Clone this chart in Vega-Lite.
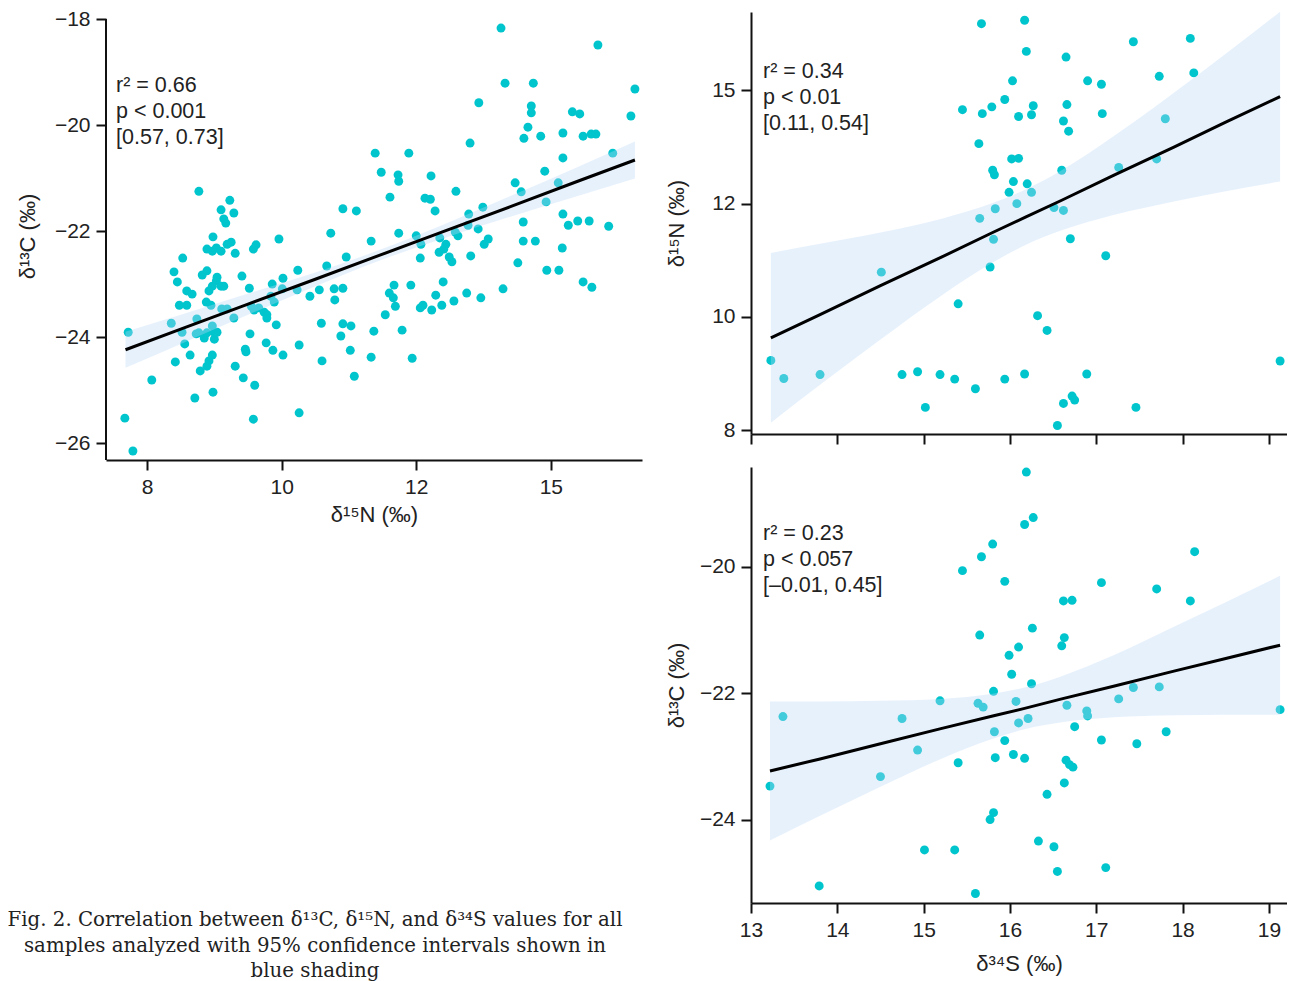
{
  "$schema": "https://vega.github.io/schema/vega-lite/v6.json",
  "background": "white",
  "padding": {"left": 7, "top": 8, "right": 0, "bottom": 0},
  "spacing": 23,
  "config": {
    "view": {"stroke": null},
    "font": "Liberation Sans",
    "axis": {
      "domainColor": "#111", "domainWidth": 2, "tickColor": "#111", "tickWidth": 2, "tickSize": 10,
      "labelFontSize": 21, "labelColor": "#222", "labelFont": "Liberation Sans", "labelPadding": 6, "labelFlush": false,
      "titleFont": "Liberation Sans", "titleFontSize": 22, "titleFontWeight": "normal", "titleColor": "#222",
      "grid": false
    }
  },
  "datasets": {
    "cn": [
      {"x":13.26,"y":-18.17},{"x":14.70,"y":-18.49},{"x":13.32,"y":-19.21},{"x":13.74,"y":-19.21},{"x":15.25,"y":-19.32},
      {"x":12.93,"y":-19.58},{"x":13.71,"y":-19.64},{"x":13.71,"y":-19.77},{"x":14.32,"y":-19.75},{"x":14.43,"y":-19.79},
      {"x":15.19,"y":-19.83},{"x":13.66,"y":-20.04},{"x":13.60,"y":-20.25},{"x":13.85,"y":-20.21},{"x":14.18,"y":-20.15},
      {"x":14.48,"y":-20.21},{"x":14.60,"y":-20.17},{"x":14.67,"y":-20.17},{"x":12.80,"y":-20.34},{"x":11.39,"y":-20.53},
      {"x":11.89,"y":-20.53},{"x":14.92,"y":-20.53},{"x":14.18,"y":-20.62},{"x":11.48,"y":-20.89},{"x":11.73,"y":-20.94},
      {"x":11.74,"y":-21.06},{"x":12.22,"y":-20.96},{"x":13.91,"y":-20.87},{"x":11.61,"y":-21.36},{"x":12.13,"y":-21.38},
      {"x":12.21,"y":-21.40},{"x":12.59,"y":-21.25},{"x":13.47,"y":-21.09},{"x":13.56,"y":-21.26},{"x":14.11,"y":-21.09},
      {"x":12.28,"y":-21.62},{"x":12.99,"y":-21.55},{"x":12.78,"y":-21.68},{"x":13.93,"y":-21.45},{"x":14.18,"y":-21.68},
      {"x":14.26,"y":-21.89},{"x":14.40,"y":-21.81},{"x":14.57,"y":-21.81},{"x":14.86,"y":-21.91},{"x":13.59,"y":-21.83},
      {"x":12.92,"y":-21.96},{"x":12.77,"y":-21.89},{"x":11.74,"y":-22.04},{"x":11.33,"y":-22.19},{"x":12.00,"y":-22.09},
      {"x":12.07,"y":-22.25},{"x":12.35,"y":-22.13},{"x":12.44,"y":-22.25},{"x":12.58,"y":-22.02},{"x":12.62,"y":-22.09},
      {"x":13.59,"y":-22.19},{"x":13.77,"y":-22.19},{"x":13.01,"y":-22.25},{"x":13.07,"y":-22.15},{"x":14.17,"y":-22.32},
      {"x":12.06,"y":-22.51},{"x":12.34,"y":-22.40},{"x":12.41,"y":-22.34},{"x":12.49,"y":-22.49},{"x":12.53,"y":-22.58},
      {"x":12.81,"y":-22.47},{"x":13.51,"y":-22.60},{"x":13.94,"y":-22.74},{"x":14.12,"y":-22.74},{"x":14.48,"y":-22.96},
      {"x":14.61,"y":-23.06},{"x":11.67,"y":-23.02},{"x":11.60,"y":-23.17},{"x":11.66,"y":-23.26},{"x":11.69,"y":-23.42},
      {"x":11.92,"y":-23.02},{"x":12.40,"y":-22.96},{"x":12.29,"y":-23.21},{"x":12.06,"y":-23.45},{"x":12.10,"y":-23.40},
      {"x":12.23,"y":-23.49},{"x":12.38,"y":-23.40},{"x":12.56,"y":-23.32},{"x":12.75,"y":-23.17},{"x":12.96,"y":-23.26},
      {"x":13.29,"y":-23.09},{"x":11.54,"y":-23.58},{"x":11.37,"y":-23.89},{"x":11.79,"y":-23.87},{"x":11.33,"y":-24.38},
      {"x":11.94,"y":-24.40},{"x":7.72,"y":-23.91},{"x":7.67,"y":-25.53},{"x":7.79,"y":-26.15},{"x":8.07,"y":-24.81},
      {"x":8.36,"y":-23.74},{"x":8.42,"y":-24.47},{"x":8.53,"y":-22.51},{"x":8.40,"y":-22.77},{"x":8.45,"y":-22.96},
      {"x":8.48,"y":-23.40},{"x":8.59,"y":-23.40},{"x":8.59,"y":-23.13},{"x":8.67,"y":-23.19},{"x":8.52,"y":-23.91},
      {"x":8.56,"y":-24.13},{"x":8.64,"y":-24.34},{"x":8.71,"y":-25.15},{"x":8.74,"y":-23.66},{"x":8.73,"y":-23.94},
      {"x":8.77,"y":-23.92},{"x":8.85,"y":-24.02},{"x":8.89,"y":-23.92},{"x":8.79,"y":-24.64},{"x":8.82,"y":-22.83},
      {"x":8.89,"y":-22.75},{"x":8.88,"y":-23.34},{"x":8.95,"y":-23.40},{"x":8.89,"y":-24.55},{"x":8.92,"y":-24.45},
      {"x":8.97,"y":-24.34},{"x":9.00,"y":-24.04},{"x":9.00,"y":-23.91},{"x":9.04,"y":-23.91},{"x":8.97,"y":-23.79},
      {"x":8.98,"y":-25.04},{"x":8.92,"y":-23.13},{"x":8.97,"y":-23.04},{"x":9.03,"y":-22.94},{"x":9.04,"y":-22.87},
      {"x":9.10,"y":-23.04},{"x":9.14,"y":-23.04},{"x":8.89,"y":-22.34},{"x":8.97,"y":-22.38},{"x":9.03,"y":-22.32},
      {"x":9.10,"y":-22.38},{"x":9.19,"y":-22.25},{"x":9.25,"y":-22.21},{"x":9.31,"y":-22.42},{"x":9.11,"y":-23.47},
      {"x":9.19,"y":-23.47},{"x":9.29,"y":-23.64},{"x":9.31,"y":-24.55},{"x":9.41,"y":-22.85},{"x":9.52,"y":-23.08},
      {"x":9.43,"y":-24.77},{"x":9.46,"y":-24.23},{"x":9.47,"y":-24.28},{"x":9.53,"y":-23.94},{"x":9.55,"y":-23.42},
      {"x":9.59,"y":-23.49},{"x":9.58,"y":-22.34},{"x":9.62,"y":-22.26},{"x":9.60,"y":-24.91},{"x":9.58,"y":-25.55},
      {"x":9.66,"y":-23.45},{"x":9.74,"y":-23.53},{"x":9.78,"y":-23.58},{"x":9.78,"y":-23.64},{"x":9.77,"y":-24.11},
      {"x":9.84,"y":-23.23},{"x":9.89,"y":-23.34},{"x":9.86,"y":-23.00},{"x":9.92,"y":-23.77},{"x":9.87,"y":-24.25},
      {"x":10.02,"y":-22.89},{"x":10.02,"y":-24.34},{"x":9.96,"y":-22.15},{"x":10.01,"y":-23.09},{"x":10.24,"y":-22.74},
      {"x":10.23,"y":-23.11},{"x":10.26,"y":-24.15},{"x":10.26,"y":-25.43},{"x":10.42,"y":-23.23},{"x":10.56,"y":-23.11},
      {"x":10.59,"y":-23.74},{"x":10.60,"y":-24.45},{"x":10.67,"y":-22.66},{"x":10.78,"y":-23.09},{"x":10.91,"y":-23.08},
      {"x":10.79,"y":-23.30},{"x":10.96,"y":-22.49},{"x":10.91,"y":-23.75},{"x":11.03,"y":-23.79},{"x":10.88,"y":-23.98},
      {"x":11.02,"y":-24.25},{"x":11.08,"y":-24.74},{"x":8.77,"y":-21.25},{"x":9.23,"y":-21.42},{"x":9.10,"y":-21.60},
      {"x":9.14,"y":-21.77},{"x":9.17,"y":-21.85},{"x":9.29,"y":-21.66},{"x":8.98,"y":-22.11},{"x":10.91,"y":-21.58},
      {"x":11.11,"y":-21.62},{"x":10.73,"y":-22.04}
    ],
    "cnfit": [
      {"x":7.68,"fit":-24.24,"lo":-24.58,"hi":-23.90},
      {"x":8.5,"fit":-23.85,"lo":-24.13,"hi":-23.58},
      {"x":9.5,"fit":-23.38,"lo":-23.58,"hi":-23.18},
      {"x":10.5,"fit":-22.91,"lo":-23.04,"hi":-22.78},
      {"x":11.45,"fit":-22.46,"lo":-22.56,"hi":-22.36},
      {"x":12.4,"fit":-22.01,"lo":-22.14,"hi":-21.88},
      {"x":13.4,"fit":-21.54,"lo":-21.73,"hi":-21.34},
      {"x":14.4,"fit":-21.06,"lo":-21.34,"hi":-20.79},
      {"x":15.25,"fit":-20.66,"lo":-21.01,"hi":-20.31}
    ],
    "sn": [
      {"x":15.67,"y":15.18},{"x":16.03,"y":14.17},{"x":15.94,"y":13.84},{"x":15.45,"y":13.66},{"x":15.68,"y":13.59},
      {"x":15.79,"y":13.71},{"x":16.10,"y":13.54},{"x":15.64,"y":13.06},{"x":16.02,"y":12.79},{"x":16.10,"y":12.80},
      {"x":15.80,"y":12.59},{"x":15.82,"y":12.51},{"x":16.04,"y":12.39},{"x":15.99,"y":12.20},{"x":16.08,"y":12.00},
      {"x":15.83,"y":11.91},{"x":15.65,"y":11.74},{"x":15.81,"y":11.37},{"x":14.51,"y":10.79},{"x":15.77,"y":10.88},
      {"x":15.40,"y":10.23},{"x":13.23,"y":9.23},{"x":13.38,"y":8.91},{"x":13.80,"y":8.98},{"x":14.75,"y":8.98},
      {"x":14.93,"y":9.03},{"x":15.19,"y":8.98},{"x":15.36,"y":8.90},{"x":15.60,"y":8.73},{"x":15.94,"y":8.90},
      {"x":15.02,"y":8.40},{"x":16.17,"y":15.24},{"x":16.19,"y":14.69},{"x":16.65,"y":14.59},{"x":17.43,"y":14.86},
      {"x":18.09,"y":14.92},{"x":16.90,"y":14.17},{"x":17.06,"y":14.11},{"x":17.73,"y":14.25},{"x":18.13,"y":14.31},
      {"x":16.27,"y":13.73},{"x":16.25,"y":13.57},{"x":16.66,"y":13.75},{"x":16.62,"y":13.46},{"x":16.68,"y":13.28},
      {"x":17.07,"y":13.59},{"x":17.80,"y":13.50},{"x":17.70,"y":12.79},{"x":16.60,"y":12.59},{"x":17.26,"y":12.64},
      {"x":16.20,"y":12.35},{"x":16.25,"y":12.20},{"x":16.51,"y":11.93},{"x":16.62,"y":11.88},{"x":16.70,"y":11.38},
      {"x":17.11,"y":11.08},{"x":16.32,"y":10.02},{"x":16.43,"y":9.76},{"x":16.17,"y":8.99},{"x":16.89,"y":8.99},
      {"x":16.62,"y":8.47},{"x":16.72,"y":8.60},{"x":16.75,"y":8.53},{"x":17.46,"y":8.40},{"x":16.55,"y":8.08},
      {"x":19.13,"y":9.22}
    ],
    "snfit": [
      {"x":13.23,"fit":9.63,"lo":8.13,"hi":11.13},
      {"x":13.8,"fit":10.04,"lo":8.80,"hi":11.29},
      {"x":14.5,"fit":10.55,"lo":9.60,"hi":11.49},
      {"x":15.2,"fit":11.05,"lo":10.37,"hi":11.73},
      {"x":15.8,"fit":11.49,"lo":10.96,"hi":12.01},
      {"x":16.18,"fit":11.76,"lo":11.27,"hi":12.25},
      {"x":16.6,"fit":12.06,"lo":11.53,"hi":12.59},
      {"x":17.2,"fit":12.50,"lo":11.80,"hi":13.19},
      {"x":17.9,"fit":13.00,"lo":12.04,"hi":13.96},
      {"x":18.5,"fit":13.44,"lo":12.22,"hi":14.65},
      {"x":19.13,"fit":13.89,"lo":12.39,"hi":15.39}
    ],
    "sc": [
      {"x":15.80,"y":-19.64},{"x":15.67,"y":-19.84},{"x":15.45,"y":-20.06},{"x":15.94,"y":-20.23},{"x":15.65,"y":-21.08},
      {"x":16.10,"y":-21.27},{"x":15.99,"y":-21.40},{"x":16.02,"y":-21.70},{"x":15.81,"y":-21.97},{"x":15.19,"y":-22.12},
      {"x":15.63,"y":-22.16},{"x":15.69,"y":-22.22},{"x":16.07,"y":-22.13},{"x":13.37,"y":-22.37},{"x":14.75,"y":-22.40},
      {"x":15.82,"y":-22.61},{"x":16.10,"y":-22.47},{"x":14.93,"y":-22.90},{"x":15.94,"y":-22.75},{"x":15.83,"y":-23.02},
      {"x":16.04,"y":-22.97},{"x":15.40,"y":-23.10},{"x":14.50,"y":-23.32},{"x":13.22,"y":-23.47},{"x":15.81,"y":-23.89},
      {"x":15.77,"y":-24.00},{"x":15.01,"y":-24.48},{"x":15.36,"y":-24.48},{"x":13.79,"y":-25.05},{"x":15.60,"y":-25.17},
      {"x":16.19,"y":-18.50},{"x":16.17,"y":-19.33},{"x":16.27,"y":-19.22},{"x":18.14,"y":-19.76},{"x":17.06,"y":-20.25},
      {"x":17.70,"y":-20.35},{"x":16.62,"y":-20.54},{"x":16.72,"y":-20.53},{"x":18.09,"y":-20.54},{"x":16.26,"y":-20.97},
      {"x":16.63,"y":-21.12},{"x":16.60,"y":-21.25},{"x":16.25,"y":-21.85},{"x":16.66,"y":-22.19},{"x":17.26,"y":-22.09},
      {"x":17.43,"y":-21.91},{"x":17.73,"y":-21.90},{"x":16.89,"y":-22.28},{"x":16.90,"y":-22.36},{"x":16.21,"y":-22.40},
      {"x":16.75,"y":-22.53},{"x":19.13,"y":-22.26},{"x":17.81,"y":-22.61},{"x":17.06,"y":-22.74},{"x":17.47,"y":-22.80},
      {"x":16.17,"y":-23.03},{"x":16.65,"y":-23.06},{"x":16.69,"y":-23.13},{"x":16.73,"y":-23.17},{"x":16.63,"y":-23.42},
      {"x":16.43,"y":-23.60},{"x":16.33,"y":-24.34},{"x":16.51,"y":-24.43},{"x":16.55,"y":-24.82},{"x":17.11,"y":-24.76}
    ],
    "scfit": [
      {"x":13.22,"fit":-23.23,"lo":-24.33,"hi":-22.13},
      {"x":13.8,"fit":-23.04,"lo":-23.94,"hi":-22.13},
      {"x":14.5,"fit":-22.80,"lo":-23.48,"hi":-22.12},
      {"x":15.2,"fit":-22.56,"lo":-23.04,"hi":-22.09},
      {"x":15.8,"fit":-22.36,"lo":-22.72,"hi":-22.01},
      {"x":16.17,"fit":-22.24,"lo":-22.57,"hi":-21.91},
      {"x":16.6,"fit":-22.09,"lo":-22.46,"hi":-21.73},
      {"x":17.2,"fit":-21.89,"lo":-22.38,"hi":-21.40},
      {"x":17.9,"fit":-21.65,"lo":-22.35,"hi":-20.95},
      {"x":18.5,"fit":-21.45,"lo":-22.34,"hi":-20.56},
      {"x":19.13,"fit":-21.24,"lo":-22.34,"hi":-20.14}
    ]
  },
  "hconcat": [
    {
      "width": 536,
      "height": 448,
      "title": {
        "text": ["Fig. 2. Correlation between δ¹³C, δ¹⁵N, and δ³⁴S values for all", "samples analyzed with 95% confidence intervals shown in", "blue shading"],
        "orient": "bottom", "anchor": "middle", "dx": -59, "offset": 385,
        "font": "DejaVu Serif", "fontSize": 19.8, "fontWeight": "normal", "lineHeight": 25.5, "color": "#222"
      },
      "layer": [
        {
          "data": {"name": "cn"},
          "mark": {"type": "circle", "size": 80, "opacity": 1, "color": "#00c5cd"},
          "encoding": {
            "x": {"field": "x", "type": "quantitative", "scale": {"domain": [7.39, 15.355], "nice": false, "zero": false}, "axis": {"values": [8, 10, 12, 14], "format": "d", "labelExpr": "datum.value == 14 ? '15' : datum.label", "title": "δ¹⁵N (‰)", "titlePadding": 7}},
            "y": {"field": "y", "type": "quantitative", "scale": {"domain": [-26.32, -17.867], "nice": false, "zero": false}, "axis": {"values": [-26, -24, -22, -20, -18], "format": "d", "domain": false, "title": "δ¹³C (‰)", "titlePadding": 15}}
          }
        },
        {
          "data": {"name": "cnfit"},
          "mark": {"type": "area", "color": "#b9d6f7", "opacity": 0.35, "interpolate": "monotone"},
          "encoding": {
            "x": {"field": "x", "type": "quantitative", "title": "δ¹⁵N (‰)"},
            "y": {"field": "lo", "type": "quantitative", "title": "δ¹³C (‰)"},
            "y2": {"field": "hi"}
          }
        },
        {
          "data": {"name": "cnfit"},
          "mark": {"type": "line", "color": "#000", "strokeWidth": 3},
          "encoding": {
            "x": {"field": "x", "type": "quantitative", "title": "δ¹⁵N (‰)"},
            "y": {"field": "fit", "type": "quantitative", "title": "δ¹³C (‰)"}
          }
        },
        {
          "data": {"values": [{}]},
          "mark": {"type": "rule", "color": "#111", "strokeWidth": 2},
          "encoding": {
            "x": {"datum": 7.39, "type": "quantitative"},
            "y": {"datum": -26.32, "type": "quantitative"},
            "y2": {"datum": -18.0}
          }
        },
        {
          "data": {"values": [{}]},
          "mark": {"type": "text", "text": ["r² = 0.66", "p < 0.001", "[0.57, 0.73]"], "align": "left", "baseline": "alphabetic", "fontSize": 21.5, "lineHeight": 26, "color": "#222", "font": "Liberation Sans"},
          "encoding": {
            "x": {"datum": 7.539, "type": "quantitative"},
            "y": {"datum": -19.377, "type": "quantitative"}
          }
        }
      ]
    },
    {
      "spacing": 22,
      "vconcat": [
        {
          "width": 536,
          "height": 422,
          "layer": [
            {
              "data": {"name": "sn"},
              "mark": {"type": "circle", "size": 80, "opacity": 1, "color": "#00c5cd"},
              "encoding": {
                "x": {"field": "x", "type": "quantitative", "scale": {"domain": [13, 19.21], "nice": false, "zero": false}, "axis": {"values": [13, 14, 15, 16, 17, 18, 19], "labels": false, "title": null}},
                "y": {"field": "y", "type": "quantitative", "scale": {"domain": [7.93, 15.386], "nice": false, "zero": false}, "axis": {"values": [8, 10, 12, 14], "format": "d", "labelExpr": "datum.value == 14 ? '15' : datum.label", "title": "δ¹⁵N (‰)", "titlePadding": 23}}
              }
            },
            {
              "data": {"name": "snfit"},
              "mark": {"type": "area", "color": "#b9d6f7", "opacity": 0.35, "interpolate": "monotone"},
              "encoding": {
                "x": {"field": "x", "type": "quantitative", "title": null},
                "y": {"field": "lo", "type": "quantitative", "title": "δ¹⁵N (‰)"},
                "y2": {"field": "hi"}
              }
            },
            {
              "data": {"name": "snfit"},
              "mark": {"type": "line", "color": "#000", "strokeWidth": 3},
              "encoding": {
                "x": {"field": "x", "type": "quantitative", "title": null},
                "y": {"field": "fit", "type": "quantitative", "title": "δ¹⁵N (‰)"}
              }
            },
            {
              "data": {"values": [{}]},
              "mark": {"type": "text", "text": ["r² = 0.34", "p < 0.01", "[0.11, 0.54]"], "align": "left", "baseline": "alphabetic", "fontSize": 21.5, "lineHeight": 26, "color": "#222", "font": "Liberation Sans"},
              "encoding": {
                "x": {"datum": 13.139, "type": "quantitative"},
                "y": {"datum": 14.225, "type": "quantitative"}
              }
            }
          ]
        },
        {
          "width": 536,
          "height": 436,
          "layer": [
            {
              "data": {"name": "sc"},
              "mark": {"type": "circle", "size": 80, "opacity": 1, "color": "#00c5cd"},
              "encoding": {
                "x": {"field": "x", "type": "quantitative", "scale": {"domain": [13, 19.21], "nice": false, "zero": false}, "axis": {"values": [13, 14, 15, 16, 17, 18, 19], "format": "d", "title": "δ³⁴S (‰)", "titlePadding": 13}},
                "y": {"field": "y", "type": "quantitative", "scale": {"domain": [-25.32, -18.42], "nice": false, "zero": false}, "axis": {"values": [-24, -22, -20], "format": "d", "title": "δ¹³C (‰)", "titlePadding": 11}}
              }
            },
            {
              "data": {"name": "scfit"},
              "mark": {"type": "area", "color": "#b9d6f7", "opacity": 0.35, "interpolate": "monotone"},
              "encoding": {
                "x": {"field": "x", "type": "quantitative", "title": "δ³⁴S (‰)"},
                "y": {"field": "lo", "type": "quantitative", "title": "δ¹³C (‰)"},
                "y2": {"field": "hi"}
              }
            },
            {
              "data": {"name": "scfit"},
              "mark": {"type": "line", "color": "#000", "strokeWidth": 3},
              "encoding": {
                "x": {"field": "x", "type": "quantitative", "title": "δ³⁴S (‰)"},
                "y": {"field": "fit", "type": "quantitative", "title": "δ¹³C (‰)"}
              }
            },
            {
              "data": {"values": [{}]},
              "mark": {"type": "text", "text": ["r² = 0.23", "p < 0.057", "[–0.01, 0.45]"], "align": "left", "baseline": "alphabetic", "fontSize": 21.5, "lineHeight": 26, "color": "#222", "font": "Liberation Sans"},
              "encoding": {
                "x": {"datum": 13.139, "type": "quantitative"},
                "y": {"datum": -19.568, "type": "quantitative"}
              }
            }
          ]
        }
      ]
    }
  ]
}
